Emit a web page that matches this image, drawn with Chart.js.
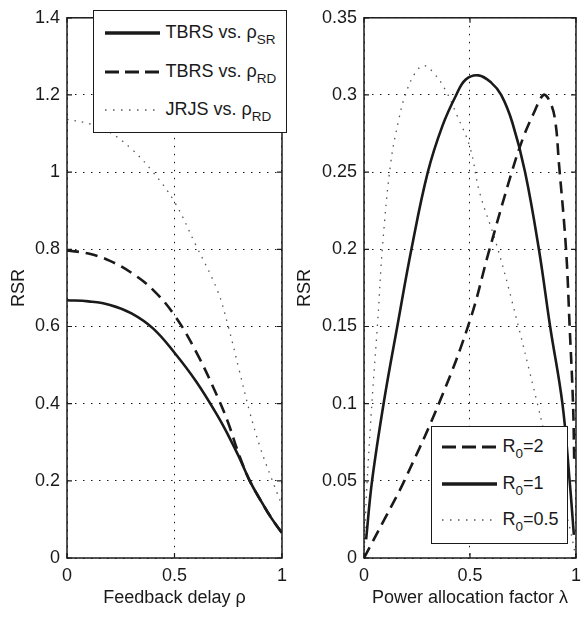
<!DOCTYPE html>
<html>
<head>
<meta charset="utf-8">
<script src="https://cdn.jsdelivr.net/npm/chart.js@4.4.1/dist/chart.umd.min.js"></script>
<style>
  body { margin: 0; background: #fff; }
  #wrap { position: relative; width: 588px; height: 618px; overflow: hidden; font-family: "Liberation Sans", Arial, sans-serif; color: #1a1a1a; }
  canvas { position: absolute; top: 0; }
  .legend { position: absolute; background: #fff; border: 1.5px solid #1a1a1a; box-sizing: border-box; }
  .row { position: absolute; display: flex; align-items: center; height: 24px; font-size: 18px; white-space: nowrap; }
  .row svg { margin-right: 6px; flex: none; }
  .row sub { font-size: 13.5px; vertical-align: baseline; position: relative; top: 6px; }
</style>
</head>
<body>
<div id="wrap">
  <canvas id="left" width="294" height="618" style="left:0"></canvas>
  <canvas id="right" width="298" height="618" style="left:290px"></canvas>

  <div class="legend" style="left:93px;top:10px;width:194px;height:123px">
    <div class="row" style="left:10.5px;top:9.5px">
      <svg width="55" height="10"><line x1="0" y1="5" x2="55" y2="5" stroke="#1a1a1a" stroke-width="3.5"/></svg>
      <span>TBRS vs. ρ<sub>SR</sub></span>
    </div>
    <div class="row" style="left:10.5px;top:48.5px">
      <svg width="55" height="10"><line x1="0" y1="5" x2="55" y2="5" stroke="#1a1a1a" stroke-width="3" stroke-dasharray="14 6"/></svg>
      <span>TBRS vs. ρ<sub>RD</sub></span>
    </div>
    <div class="row" style="left:10.5px;top:86.5px">
      <svg width="55" height="10"><line x1="0" y1="5" x2="55" y2="5" stroke="#555" stroke-width="1.5" stroke-dasharray="1.5 6.5"/></svg>
      <span>JRJS vs. ρ<sub>RD</sub></span>
    </div>
  </div>

  <div class="legend" style="left:431px;top:426px;width:137px;height:118px">
    <div class="row" style="left:9.5px;top:7.5px">
      <svg width="55" height="10"><line x1="0" y1="5" x2="55" y2="5" stroke="#1a1a1a" stroke-width="3" stroke-dasharray="14 6"/></svg>
      <span>R<sub>0</sub>=2</span>
    </div>
    <div class="row" style="left:9.5px;top:44.5px">
      <svg width="55" height="10"><line x1="0" y1="5" x2="55" y2="5" stroke="#1a1a1a" stroke-width="3.5"/></svg>
      <span>R<sub>0</sub>=1</span>
    </div>
    <div class="row" style="left:9.5px;top:80.5px">
      <svg width="55" height="10"><line x1="0" y1="5" x2="55" y2="5" stroke="#555" stroke-width="1.5" stroke-dasharray="1.5 6.5"/></svg>
      <span>R<sub>0</sub>=0.5</span>
    </div>
  </div>
</div>

<script>
// Left panel: RSR vs feedback delay rho
const rhoGrid = [0, 0.1, 0.2, 0.3, 0.4, 0.5, 0.6, 0.7, 0.75, 0.8, 0.85, 0.9, 0.95, 1];
const tbrsSR  = [0.668, 0.665, 0.656, 0.634, 0.595, 0.532, 0.458, 0.369, 0.318, 0.262, 0.200, 0.150, 0.104, 0.065];
const tbrsRD  = [0.797, 0.789, 0.770, 0.739, 0.695, 0.629, 0.535, 0.418, 0.350, 0.268, 0.200, 0.150, 0.104, 0.065];
const jrjsRD  = [1.137, 1.126, 1.103, 1.060, 1.000, 0.923, 0.810, 0.693, 0.600, 0.489, 0.378, 0.284, 0.208, 0.136];

// Right panel: RSR vs power allocation factor lambda
const lamR2 = [0, 0.1, 0.19, 0.362, 0.5, 0.59, 0.697, 0.75, 0.8, 0.846, 0.872, 0.9, 0.92, 0.953, 0.97, 0.986, 0.992];
const rsrR2 = [0, 0.026, 0.05, 0.103, 0.154, 0.199, 0.25, 0.272, 0.288, 0.300, 0.297, 0.285, 0.255, 0.2, 0.15, 0.1, 0.06];
const lamR1 = [0.01, 0.038, 0.096, 0.157, 0.225, 0.301, 0.37, 0.435, 0.48, 0.54, 0.60, 0.647, 0.70, 0.76, 0.825, 0.878, 0.936, 0.97, 0.99];
const rsrR1 = [0.012, 0.05, 0.103, 0.15, 0.201, 0.25, 0.28, 0.30, 0.31, 0.3127, 0.308, 0.30, 0.282, 0.25, 0.2, 0.15, 0.1, 0.05, 0.015];
const lamR05 = [0, 0.008, 0.015, 0.03, 0.043, 0.065, 0.088, 0.126, 0.164, 0.195, 0.24, 0.283, 0.33, 0.385, 0.438, 0.5, 0.545, 0.621, 0.697, 0.818, 0.87, 0.93, 0.97, 1];
const rsrR05 = [0, 0.03, 0.05, 0.085, 0.112, 0.154, 0.203, 0.256, 0.284, 0.3, 0.314, 0.319, 0.314, 0.303, 0.287, 0.266, 0.237, 0.205, 0.167, 0.1, 0.07, 0.04, 0.02, 0];

const INK = '#1a1a1a';
const FONT = '"Liberation Sans", Arial, sans-serif';

function pts(xs, ys) {
    return xs.map((x, i) => ({ x: x, y: ys[i] }));
}

function lineStyle(kind) {
    if (kind === 'solid') return { borderColor: INK, borderWidth: 2.6, borderDash: [] };
    if (kind === 'dashed') return { borderColor: INK, borderWidth: 2.6, borderDash: [12, 7] };
    return { borderColor: '#555', borderWidth: 1.3, borderDash: [1.5, 6] };
}

// MATLAB style frame with inward ticks
const boxFrame = {
    id: 'boxFrame',
    afterDraw(chart) {
        const { ctx, chartArea: a, scales } = chart;
        ctx.save();
        ctx.strokeStyle = INK;
        ctx.lineWidth = 1.5;
        ctx.strokeRect(a.left, a.top, a.right - a.left, a.bottom - a.top);
        ctx.lineWidth = 1.2;
        ctx.beginPath();
        scales.x.ticks.forEach(t => {
            const px = scales.x.getPixelForValue(t.value);
            ctx.moveTo(px, a.bottom); ctx.lineTo(px, a.bottom - 5);
            ctx.moveTo(px, a.top); ctx.lineTo(px, a.top + 5);
        });
        scales.y.ticks.forEach(t => {
            const py = scales.y.getPixelForValue(t.value);
            ctx.moveTo(a.left, py); ctx.lineTo(a.left + 5, py);
            ctx.moveTo(a.right, py); ctx.lineTo(a.right - 5, py);
        });
        ctx.stroke();
        ctx.restore();
    }
};

function makeChart(id, datasets, yMax, yStep, xTitle, yWidth, yTitlePad, rightPad) {
    return new Chart(document.getElementById(id), {
        type: 'line',
        data: { datasets: datasets },
        options: {
            responsive: false,
            animation: false,
            layout: { padding: { top: 10, right: rightPad, left: 0, bottom: 0 } },
            plugins: { legend: { display: false }, tooltip: { enabled: false } },
            elements: { point: { radius: 0 }, line: { tension: 0.4, borderCapStyle: 'butt' } },
            scales: {
                x: {
                    type: 'linear', min: 0, max: 1,
                    afterFit: s => { s.height = 60; },
                    ticks: { stepSize: 0.5, padding: 7, color: INK, font: { family: FONT, size: 18 },
                             callback: v => String(+v.toFixed(2)) },
                    grid: { color: INK, lineWidth: 1, drawTicks: false },
                    border: { display: false, dash: [1.5, 6.5] },
                    title: { display: true, text: xTitle, color: INK, font: { family: FONT, size: 18 }, padding: { top: 0, bottom: 9 } }
                },
                y: {
                    type: 'linear', min: 0, max: yMax,
                    afterFit: s => { s.width = yWidth; },
                    ticks: { stepSize: yStep, padding: 7, color: INK, font: { family: FONT, size: 18 },
                             callback: v => String(+v.toFixed(2)) },
                    grid: { color: INK, lineWidth: 1, drawTicks: false },
                    border: { display: false, dash: [1.5, 6.5] },
                    title: { display: true, text: 'RSR', color: INK, font: { family: FONT, size: 18 }, padding: { top: yTitlePad, bottom: 0 } }
                }
            }
        },
        plugins: [boxFrame]
    });
}

makeChart('left', [
    Object.assign({ label: 'TBRS vs. ρSR', data: pts(rhoGrid, tbrsSR) }, lineStyle('solid')),
    Object.assign({ label: 'TBRS vs. ρRD', data: pts(rhoGrid, tbrsRD) }, lineStyle('dashed')),
    Object.assign({ label: 'JRJS vs. ρRD', data: pts(rhoGrid, jrjsRD) }, lineStyle('dotted'))
], 1.4, 0.2, 'Feedback delay ρ', 67, 8, 8);

makeChart('right', [
    Object.assign({ label: 'R0=2', data: pts(lamR2, rsrR2) }, lineStyle('dashed')),
    Object.assign({ label: 'R0=1', data: pts(lamR1, rsrR1) }, lineStyle('solid')),
    Object.assign({ label: 'R0=0.5', data: pts(lamR05, rsrR05) }, lineStyle('dotted'))
], 0.35, 0.05, 'Power allocation factor λ', 74, 4, 5);
</script>
</body>
</html>
